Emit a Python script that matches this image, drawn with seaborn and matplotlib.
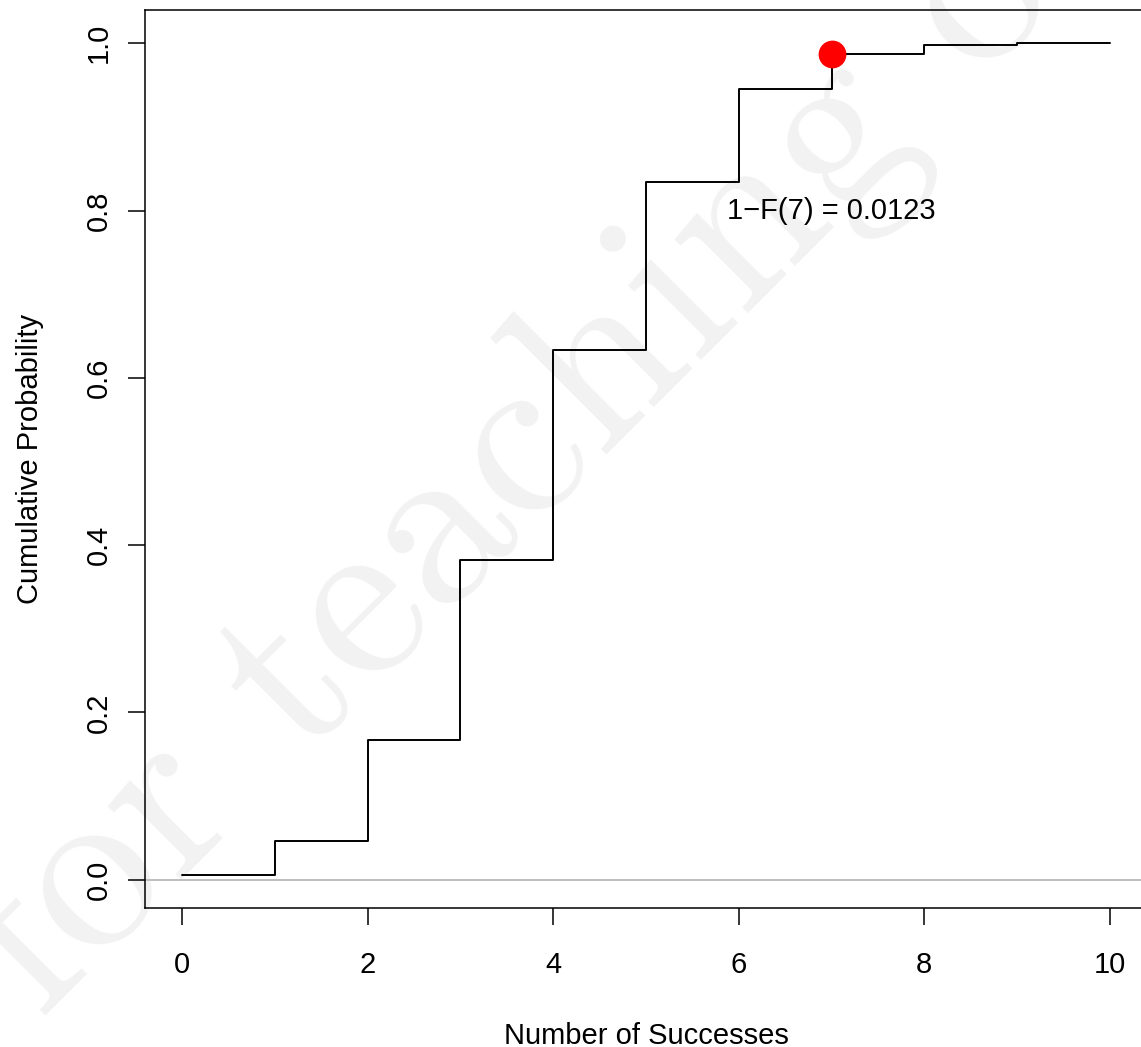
import numpy as np
import pandas as pd
import matplotlib
matplotlib.use("Agg")
import matplotlib.pyplot as plt
import seaborn as sns

# Binomial(n = 10, p = 0.4) cumulative distribution
successes = [0, 1, 2, 3, 4, 5, 6, 7, 8, 9, 10]
cum_prob = [0.0060, 0.0464, 0.1673, 0.3823, 0.6331, 0.8338,
            0.9452, 0.9877, 0.9983, 0.9999, 1.0000]
highlight_k = 7
highlight_p = 0.9877
tail_label = "1\u2212F(7) = 0.0123"
x_ticks = [0, 2, 4, 6, 8, 10]
y_ticks = [0.0, 0.2, 0.4, 0.6, 0.8, 1.0]
watermark = "for teaching only"

sns.set_style("ticks")
plt.rcParams["font.family"] = ["Liberation Sans", "DejaVu Sans"]
plt.rcParams["font.size"] = 21
plt.rcParams["text.color"] = "black"
plt.rcParams["axes.labelcolor"] = "black"

W, H = 1141, 1047
fig = plt.figure(figsize=(W / 100, H / 100), dpi=100)

# faint diagonal watermark in a background layer
bg = fig.add_axes([0, 0, 1, 1], zorder=-5)
bg.set_axis_off()
bg.text(40.5 / W, 1 - 1021 / H, watermark, family="cmr10", fontsize=173,
        color="#f2f2f2", rotation=45, rotation_mode="anchor",
        ha="left", va="baseline", transform=bg.transAxes)

ax = fig.add_axes([145 / W, (H - 908) / H, (1147 - 145) / W, (908 - 10) / H],
                  zorder=1)
ax.set_facecolor("none")

df = pd.DataFrame({"k": successes, "F": cum_prob})
ax.axhline(0, color="#bebebe", lw=1.4, zorder=1)
sns.lineplot(data=df, x="k", y="F", drawstyle="steps-post", color="black",
             lw=1.4, ax=ax, zorder=2)
sns.scatterplot(x=[highlight_k], y=[highlight_p], color="red", s=400,
                edgecolor="red", linewidth=0, ax=ax, zorder=3)
ax.text(highlight_k, 0.8, tail_label, ha="center", va="center",
        fontsize=21, color="black")

ax.set_xlim(-0.4, 10.4)
ax.set_ylim(-0.0338, 1.0398)
ax.set_xticks(x_ticks)
ax.set_xticklabels([str(t) for t in x_ticks])
ax.set_yticks(y_ticks)
ax.set_yticklabels([f"{t:.1f}" for t in y_ticks], rotation=90, va="center")
ax.tick_params(axis="both", length=12.2, width=1.1, color="black",
               labelsize=21, labelcolor="black")
ax.tick_params(axis="x", pad=19)
ax.tick_params(axis="y", pad=11)
for side in ["left", "bottom", "top", "right"]:
    ax.spines[side].set_color("black")
    ax.spines[side].set_linewidth(1.1)

ax.set_xlabel("Number of Successes", fontsize=21, labelpad=31)
ax.set_ylabel("Cumulative Probability", fontsize=21, labelpad=29)

fig.savefig("out.png", dpi=100)
